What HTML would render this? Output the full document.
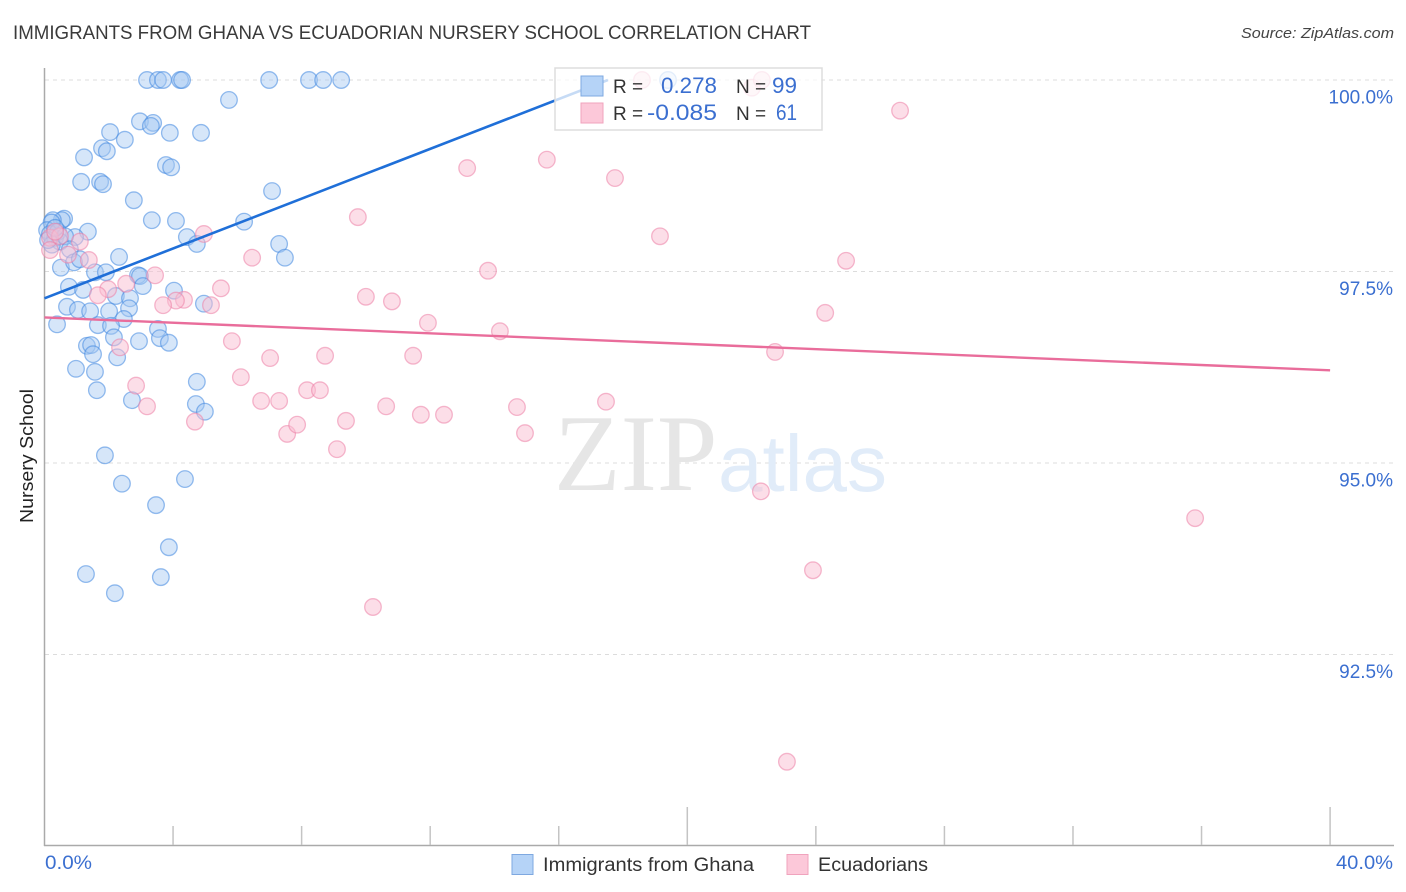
<!DOCTYPE html>
<html>
<head>
<meta charset="utf-8">
<title>Immigrants from Ghana vs Ecuadorian Nursery School Correlation Chart</title>
<style>
html,body{margin:0;padding:0;background:#fff;}
svg{display:block;font-family:"Liberation Sans",sans-serif;}
</style>
</head>
<body>
<svg id="chart" xmlns="http://www.w3.org/2000/svg" width="1406" height="892" viewBox="0 0 1406 892">
  <rect x="0" y="0" width="1406" height="892" fill="#ffffff"/>
  <text x="13" y="39" font-size="19" fill="#3a3a3a" textLength="798" lengthAdjust="spacingAndGlyphs">IMMIGRANTS FROM GHANA VS ECUADORIAN NURSERY SCHOOL CORRELATION CHART</text>
  <text x="1394" y="38" font-size="15" font-style="italic" fill="#444444" text-anchor="end" textLength="153" lengthAdjust="spacingAndGlyphs">Source: ZipAtlas.com</text>
  <text transform="translate(33,456) rotate(-90)" font-size="18" fill="#222222" text-anchor="middle" textLength="134" lengthAdjust="spacingAndGlyphs">Nursery School</text>
  <g id="grid"></g>
  <g id="watermark">
    <text x="554" y="490" font-family="'Liberation Serif',serif" font-size="109" fill="#e6e6e6">ZIP</text>
    <text x="718" y="491" font-size="80" fill="#e1ecf9">atlas</text>
  </g>
  <g id="axes"></g>
  <g id="points-blue"></g>
  <g id="points-pink"></g>
  <g id="trends"></g>
  <g id="legend-top">
    <rect x="555" y="68" width="267" height="62" fill="#ffffff" fill-opacity="0.75" stroke="#dddddd" stroke-width="1.5"/>
    <rect x="581" y="76" width="22" height="20" fill="#b5d3f7" stroke="#7ea8e0" stroke-width="1"/>
    <rect x="581" y="103" width="22" height="20" fill="#fcc8d9" stroke="#f0a3bd" stroke-width="1"/>
    <text x="613" y="93" font-size="19" fill="#333333">R =</text>
    <text x="717" y="93" font-size="22" fill="#3b6fd0" text-anchor="end" textLength="56" lengthAdjust="spacingAndGlyphs">0.278</text>
    <text x="736" y="93" font-size="19" fill="#333333">N =</text>
    <text x="797" y="93" font-size="22" fill="#3b6fd0" text-anchor="end" textLength="25" lengthAdjust="spacingAndGlyphs">99</text>
    <text x="613" y="120" font-size="19" fill="#333333">R =</text>
    <text x="717" y="120" font-size="22" fill="#3b6fd0" text-anchor="end" textLength="70" lengthAdjust="spacingAndGlyphs">-0.085</text>
    <text x="736" y="120" font-size="19" fill="#333333">N =</text>
    <text x="797" y="120" font-size="22" fill="#3b6fd0" text-anchor="end" textLength="21" lengthAdjust="spacingAndGlyphs">61</text>
  </g>
  <g id="legend-bottom">
    <rect x="512" y="854.5" width="21" height="20" fill="#b5d3f7" stroke="#7ea8e0" stroke-width="1"/>
    <text x="543" y="871" font-size="19" fill="#333333" textLength="211" lengthAdjust="spacingAndGlyphs">Immigrants from Ghana</text>
    <rect x="787" y="854.5" width="21" height="20" fill="#fcc8d9" stroke="#f0a3bd" stroke-width="1"/>
    <text x="818" y="871" font-size="19" fill="#333333" textLength="110" lengthAdjust="spacingAndGlyphs">Ecuadorians</text>
  </g>
</svg>
<script>
const yTickValues = [100, 97.5, 95, 92.5];
const yTickLabels = ["100.0%", "97.5%", "95.0%", "92.5%"];
const xTickValues = [0, 4, 8, 12, 16, 20, 24, 28, 32, 36, 40];
const xEndLabels = ["0.0%", "40.0%"];
const ghanaX = [3.19,3.53,3.69,4.22,4.28,6.99,8.23,8.67,9.23,19.4,5.74,2.97,3.38,3.31,3.90,4.87,2.04,2.50,1.79,1.94,1.23,3.78,3.94,1.14,1.73,1.82,7.08,2.78,3.34,4.09,6.21,4.43,4.74,7.30,7.48,0.61,0.54,0.26,0.22,1.35,0.95,0.08,0.17,0.33,0.42,0.48,0.23,0.64,0.11,0.79,0.33,2.32,0.51,0.92,1.10,1.57,1.91,2.91,2.97,3.06,0.76,1.20,4.03,2.22,2.66,0.70,1.04,1.42,2.01,2.63,4.96,2.47,0.39,1.66,2.07,2.16,3.53,3.59,3.87,2.94,1.32,1.45,1.51,2.26,0.98,1.57,1.63,4.74,2.72,4.71,4.99,1.88,2.41,4.37,3.47,3.87,1.29,3.62,2.19];
const ghanaY = [100,100,100,100,100,100,100,100,100,100,99.74,99.46,99.44,99.40,99.31,99.31,99.32,99.22,99.11,99.07,98.99,98.89,98.86,98.67,98.67,98.64,98.55,98.43,98.17,98.16,98.15,97.95,97.86,97.86,97.68,98.19,98.17,98.17,98.14,98.02,97.95,98.04,97.99,97.94,98.02,97.89,97.85,97.96,97.91,97.79,98.07,97.69,97.55,97.62,97.66,97.49,97.49,97.45,97.44,97.31,97.30,97.26,97.25,97.18,97.15,97.04,97.00,96.98,96.98,97.02,97.08,96.88,96.81,96.80,96.79,96.64,96.75,96.63,96.57,96.59,96.53,96.54,96.42,96.38,96.23,96.19,95.95,96.06,95.82,95.77,95.67,95.10,94.73,94.79,94.45,93.90,93.55,93.51,93.30];
const ecuadorX = [4.96,6.46,1.10,1.38,0.73,3.44,5.49,2.54,1.98,1.66,4.34,4.09,3.69,5.18,5.83,2.35,7.02,0.17,0.17,0.48,0.33,2.85,3.19,4.68,6.11,6.74,7.30,8.17,8.57,7.55,7.86,9.10,9.38,10.63,11.71,12.43,14.70,14.95,17.47,10.00,10.81,11.93,14.17,11.47,8.73,9.75,13.80,13.15,15.63,17.75,19.15,24.94,24.29,22.73,26.62,18.59,22.01,22.32,22.29,35.80,23.91,10.22,23.10];
const ecuadorY = [97.99,97.68,97.89,97.65,97.72,97.45,97.28,97.34,97.27,97.19,97.13,97.12,97.06,97.06,96.59,96.51,96.37,97.94,97.78,97.96,98.02,96.01,95.74,95.54,96.12,95.81,95.81,95.95,95.95,95.38,95.50,95.18,95.55,95.74,95.63,95.63,95.73,95.39,95.80,97.17,97.11,96.83,96.72,96.40,96.40,98.21,97.51,98.85,98.96,98.72,97.96,97.64,96.96,96.45,99.60,100,99.90,100,94.63,94.28,93.60,93.12,91.10];
const ghanaTrendX = [0, 17.53];
const ghanaTrendY = [97.15, 100];
const ecuadorTrendX = [0, 40];
const ecuadorTrendY = [96.90, 96.21];

const NS = "http://www.w3.org/2000/svg";
function xScale(v) { return 44.5 + v * 32.14; }
function yScale(v) { return 80 + (100 - v) * 76.6; }
function make(tag, attrs, parent) {
  const el = document.createElementNS(NS, tag);
  for (const k in attrs) el.setAttribute(k, attrs[k]);
  parent.appendChild(el);
  return el;
}

const grid = document.getElementById("grid");
yTickValues.forEach(function (v, i) {
  const y = yScale(v);
  const line = make("line", {x1: 45, x2: 1394, y1: y, y2: y, stroke: "#dcdcdc", "stroke-width": 1, "stroke-dasharray": "4 4"}, grid);
  
  
  const label = make("text", {x: 1393, y: y + 23.5, "font-size": 19, fill: "#3b6fd0", "text-anchor": "end"}, grid);
  
  
  label.textContent = yTickLabels[i];
});

const axes = document.getElementById("axes");
const yAxisLine = make("line", {x1: 44.5, x2: 44.5, y1: 68, y2: 846, stroke: "#aaaaaa", "stroke-width": 1.5}, axes);


const xAxisLine = make("line", {x1: 44, x2: 1394, y1: 845.5, y2: 845.5, stroke: "#aaaaaa", "stroke-width": 1.5}, axes);


xTickValues.forEach(function (v, i) {
  if (i === 0) return;
  const x = xScale(v);
  const top = i % 5 === 0 ? 807 : 826;
  const tick = make("line", {x1: x, x2: x, y1: top, y2: 845, stroke: "#c4c4c4", "stroke-width": 1.5}, axes);
  
  
});
const xStart = make("text", {x: 45, y: 869, "font-size": 19, fill: "#3b6fd0", textLength: 47, lengthAdjust: "spacingAndGlyphs"}, axes);


xStart.textContent = xEndLabels[0];
const xEnd = make("text", {x: 1393, y: 869, "font-size": 19, fill: "#3b6fd0", "text-anchor": "end", textLength: 57, lengthAdjust: "spacingAndGlyphs"}, axes);


xEnd.textContent = xEndLabels[1];

const blueGroup = document.getElementById("points-blue");
ghanaX.forEach(function (v, i) {
  const c = make("circle", {cx: xScale(v), cy: yScale(ghanaY[i]), r: 8.3, fill: "#a4c8f2", "fill-opacity": 0.45, stroke: "#3f86e0", "stroke-opacity": 0.55, "stroke-width": 1.3}, blueGroup);
  
  
});
const pinkGroup = document.getElementById("points-pink");
ecuadorX.forEach(function (v, i) {
  const c = make("circle", {cx: xScale(v), cy: yScale(ecuadorY[i]), r: 8.3, fill: "#f9bed2", "fill-opacity": 0.5, stroke: "#ec7fa5", "stroke-opacity": 0.55, "stroke-width": 1.3}, pinkGroup);
  
  
});

const trends = document.getElementById("trends");
const ghanaLine = make("line", {x1: xScale(ghanaTrendX[0]), y1: yScale(ghanaTrendY[0]), x2: xScale(ghanaTrendX[1]), y2: yScale(ghanaTrendY[1]), stroke: "#1f6fd8", "stroke-width": 2.6}, trends);


const ecuadorLine = make("line", {x1: xScale(ecuadorTrendX[0]), y1: yScale(ecuadorTrendY[0]), x2: xScale(ecuadorTrendX[1]), y2: yScale(ecuadorTrendY[1]), stroke: "#e96d9b", "stroke-width": 2.4}, trends);


</script>
</body>
</html>
